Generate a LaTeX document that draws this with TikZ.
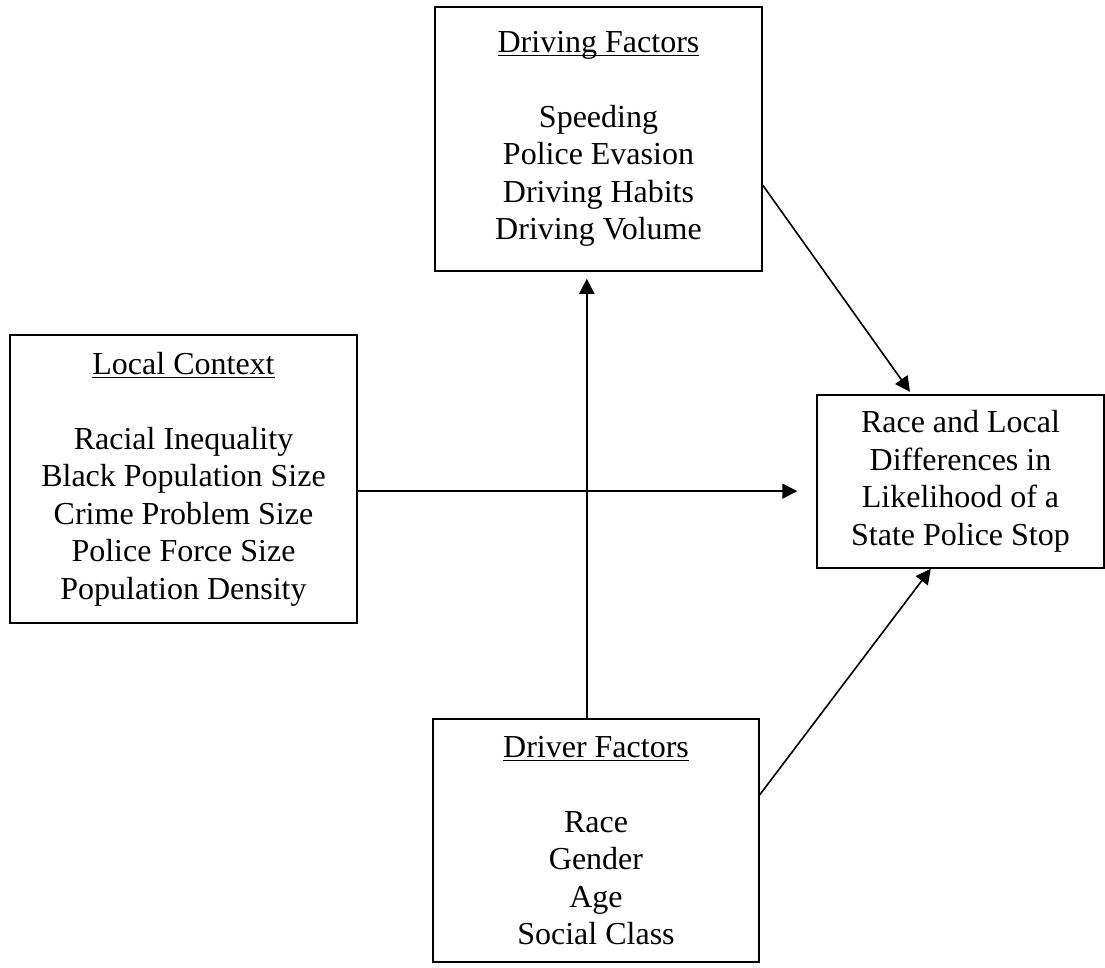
\documentclass[tikz,border=0pt]{standalone}
\usepackage{fontspec}
\setmainfont{Liberation Serif}
\usetikzlibrary{calc,arrows.meta}
\newcommand{\headline}[1]{\setbox0\hbox{#1}\rlap{\rule[-4pt]{\wd0}{1.6pt}}\box0}
\tikzset{
  factorbox/.style={draw, line width=1.5pt, align=center, inner sep=0pt,
    font=\fontsize{32}{37.5}\selectfont},
  link/.style={line width=1.6pt, -{Triangle[length=15pt,width=15pt]}}
}
\begin{document}
\begin{tikzpicture}[x=1pt,y=-1pt]
\useasboundingbox (0,0) rectangle (1105,968);
\node[factorbox, minimum width=327pt, minimum height=264pt] (df) at (598.5,139)
  {\headline{Driving Factors}\\[37.5pt]Speeding\\Police Evasion\\Driving Habits\\Driving Volume};
\node[factorbox, minimum width=347pt, minimum height=288pt] (lc) at (183.5,479)
  {\headline{Local Context}\\[37.5pt]Racial Inequality\\Black Population Size\\Crime Problem Size\\Police Force Size\\Population Density};
\node[factorbox, minimum width=287pt, minimum height=173pt] (out) at (960.5,481.5)
  {Race and Local\\Differences in\\Likelihood of a\\State Police Stop};
\node[factorbox, minimum width=326pt, minimum height=243pt] (dr) at (596,840.5)
  {\headline{Driver Factors}\\[37.5pt]Race\\Gender\\Age\\Social Class};
\coordinate (a1) at ($(lc.north east)!0.542!(lc.south east)$);
\draw[link, shorten >=19pt] (a1) -- (a1 -| out.west);
\coordinate (a2) at ($(dr.north west)!0.472!(dr.north east)$);
\draw[link, shorten >=7pt] (a2) -- (a2 |- df.south);
\coordinate (a3) at ($(df.north east)!0.674!(df.south east)$);
\coordinate (b3) at ($(out.north west)!0.331!(out.north east)$);
\draw[link, shorten >=3pt] (a3) -- (b3);
\coordinate (a4) at ($(dr.north east)!0.313!(dr.south east)$);
\coordinate (b4) at ($(out.south west)!0.397!(out.south east)$);
\draw[link] (a4) -- (b4);
\end{tikzpicture}
\end{document}
